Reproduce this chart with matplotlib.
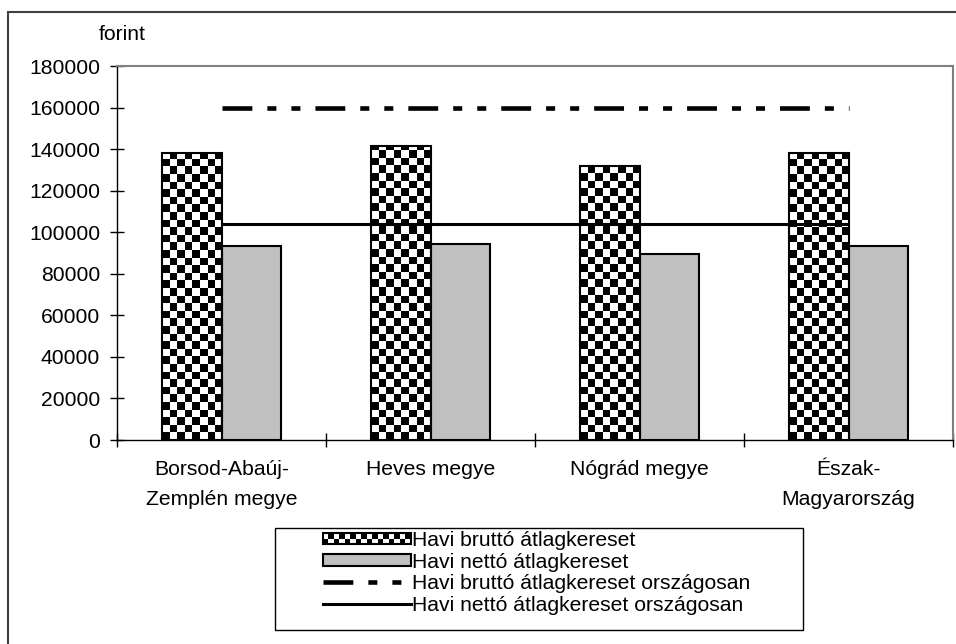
import numpy as np
import matplotlib
matplotlib.use('Agg')
import matplotlib.pyplot as plt
from matplotlib.patches import Rectangle, Patch
from matplotlib.lines import Line2D

plt.rcParams['font.family'] = ['Liberation Sans', 'DejaVu Sans']
plt.rcParams['lines.scale_dashes'] = False

# adatok
categories = ['Borsod-Abaúj-\nZemplén megye', 'Heves megye', 'Nógrád megye',
              'Észak-\nMagyarország']
brutto = [138000, 141500, 132000, 138000]
netto = [93500, 94300, 89500, 93500]
brutto_orszagos = [160000, 160000, 160000, 160000]
netto_orszagos = [104000, 104000, 104000, 104000]
yticks = list(range(0, 180001, 20000))
legend_labels = ['Havi bruttó átlagkereset', 'Havi nettó átlagkereset',
                 'Havi bruttó átlagkereset országosan',
                 'Havi nettó átlagkereset országosan']

FS = 15.2
W, H = 956, 644
dashdotdot = (0, (21.5, 10.8, 6.5, 10.8, 6.5, 10.8))


def checker(w_px, h_px, cell=7.5, ink=7.5):
    # sakktabla minta pixelben
    xs = np.arange(w_px) + 0.5
    ys = np.arange(h_px) + 0.5
    X, Y = np.meshgrid(xs, ys)
    cx = np.floor(X / cell)
    cy = np.floor(Y / cell)
    black = ((cx + cy) % 2 == 0) & ((X % cell) < ink) & ((Y % cell) < ink)
    img = np.where(black, 0.0, 1.0)
    return np.dstack([img, img, img])


fig = plt.figure(figsize=(W / 100, H / 100), dpi=100)
ax = fig.add_axes([117 / W, 204 / H, 836 / W, 374 / H])
ax.set_xlim(-0.5, 3.5)
ax.set_ylim(0, 180000)

x = np.arange(len(categories))
bw = 0.287

bars_b = ax.bar(x - bw, brutto, bw, align='edge', facecolor='none',
                edgecolor='black', linewidth=1.5, zorder=3)
for r in bars_b:
    x0, y0, w, h = r.get_x(), r.get_y(), r.get_width(), r.get_height()
    p0 = ax.transData.transform((x0, y0))
    p1 = ax.transData.transform((x0 + w, y0 + h))
    img = checker(int(round(p1[0] - p0[0])), int(round(p1[1] - p0[1])),
                  cell=7.6, ink=7.6)
    ax.imshow(img, extent=(x0, x0 + w, y0, y0 + h), origin='lower',
              aspect='auto', interpolation='nearest', zorder=2)

ax.bar(x, netto, bw, align='edge', color='#c0c0c0', edgecolor='black',
       linewidth=1.5, zorder=2)

ax.plot(x, brutto_orszagos, color='black', lw=3.3, linestyle=dashdotdot,
        solid_capstyle='butt', zorder=4)
ax.plot(x, netto_orszagos, color='black', lw=2.2, solid_capstyle='butt',
        zorder=4)

ax.set_xlim(-0.5, 3.5)
ax.set_ylim(0, 180000)

for side in ['top', 'right']:
    ax.spines[side].set_color('#808080')
    ax.spines[side].set_linewidth(1.5)
for side in ['left', 'bottom']:
    ax.spines[side].set_color('black')
    ax.spines[side].set_linewidth(1.0)

ax.set_yticks(yticks)
ax.set_yticklabels([str(v) for v in yticks])
ax.tick_params(axis='y', direction='inout', length=9.4, width=1, pad=7.5,
               labelsize=FS)
ax.set_xticks(x)
ax.set_xticklabels(categories, linespacing=1.7)
ax.set_xticks(np.arange(-0.5, 3.6, 1), minor=True)
ax.tick_params(axis='x', which='major', length=0, pad=14.5, labelsize=FS)
ax.tick_params(axis='x', which='minor', direction='inout', length=9.4, width=1)

fig.text(99 / W, 1 - 35 / H, 'forint', ha='left', va='center', fontsize=FS)

# jelmagyarazat
handles = [
    Patch(facecolor='none', edgecolor='black', lw=1.5),
    Patch(facecolor='#c0c0c0', edgecolor='black', lw=1.5),
    Line2D([], [], color='black', lw=3.3, linestyle=dashdotdot),
    Line2D([], [], color='black', lw=2.2),
]
leg = fig.legend(handles, legend_labels, loc='upper left',
                 bbox_to_anchor=(323 / W, 1 - 531 / H), frameon=False,
                 borderpad=0, borderaxespad=0, handlelength=4.15,
                 handleheight=0.45, handletextpad=0.07, labelspacing=0.12,
                 fontsize=FS)
fig.patches.append(Rectangle((275 / W, 1 - 630 / H), 528 / W, 102 / H,
                             transform=fig.transFigure, fill=False,
                             edgecolor='black', lw=1.0))
# kulso keret
fig.patches.append(Rectangle((8 / W, -0.1), 1.2, 1 - 12 / H + 0.1,
                             transform=fig.transFigure, fill=False,
                             edgecolor='#404040', lw=1.5))

fig.canvas.draw()
bb = leg.legend_handles[0].get_window_extent(fig.canvas.get_renderer())
img = checker(int(round(bb.width)), int(round(bb.height)), cell=5.5, ink=5.5)
fig.figimage(img, xo=int(round(bb.x0)), yo=int(round(bb.y0)), origin='lower',
             zorder=4)

fig.savefig('out.png', dpi=100)
